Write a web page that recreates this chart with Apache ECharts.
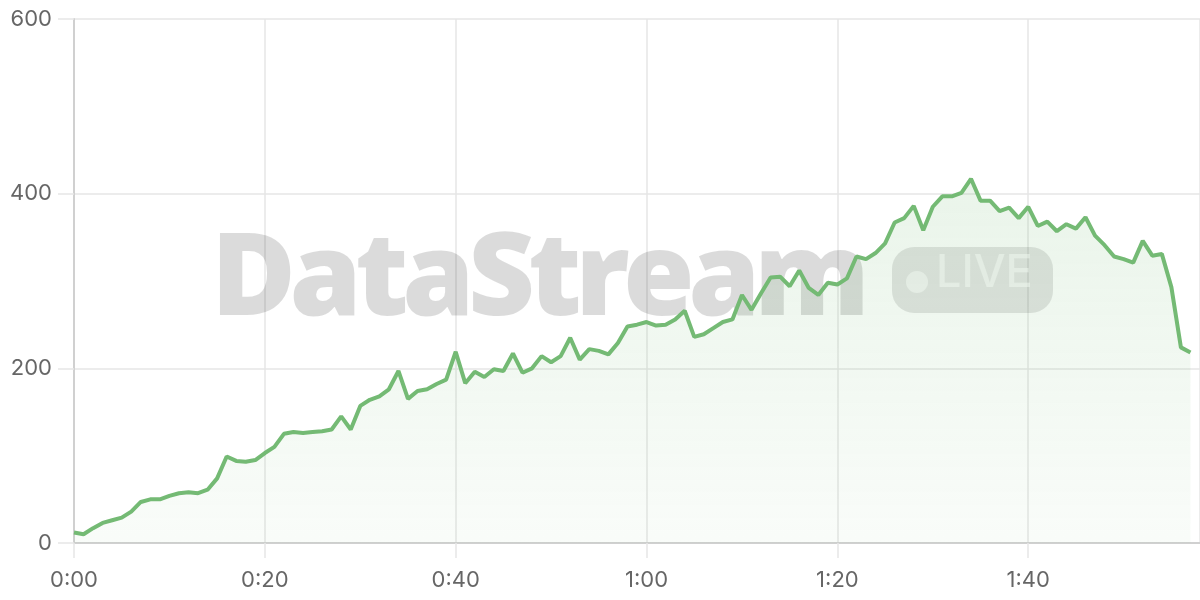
<!DOCTYPE html>
<html>
<head>
<meta charset="utf-8">
<script src="https://cdn.jsdelivr.net/npm/echarts@6/dist/echarts.min.js"></script>
<style>
html,body{margin:0;padding:0;background:#fff;}
#chart{width:1200px;height:600px;}
</style>
</head>
<body>
<div id="chart"></div>
<script>
// minute-by-minute values (minute index 0..117)
const values = [
  12, 10, 17, 23, 26, 29, 36, 47, 50, 50,
  54, 57, 58, 57, 61, 74, 99, 94, 93, 95,
  103, 110, 125, 127, 126, 127, 128, 130, 145, 130,
  157, 164, 168, 176, 197, 165, 174, 176, 182, 187,
  219, 183, 196, 190, 199, 197, 217, 195, 200, 214,
  207, 214, 235, 210, 222, 220, 216, 229, 248, 250,
  253, 249, 250, 256, 266, 236, 239, 246, 253, 256,
  284, 267, 286, 304, 305, 294, 312, 292, 284, 298,
  296, 303, 328, 325, 332, 343, 367, 372, 386, 358,
  385, 397, 397, 401, 417, 392, 392, 380, 384, 372,
  385, 363, 368, 357, 365, 360, 373, 352, 341, 328,
  325, 321, 346, 329, 331, 293, 224, 218
];
const xTicks = ['0:00', '0:20', '0:40', '1:00', '1:20', '1:40'];
const yTicks = [0, 200, 400, 600];
const watermark = 'DataStream';
const badgeText = 'LIVE';

const points = values.map((v, i) => [i, v]);
const fmtMin = m => Math.floor(m / 60) + ':' + String(m % 60).padStart(2, '0');

// watermark letters laid out with a tight letter spacing
const wmFont = '800 116px "Open Sans"';
const wmLeft = 211, wmWidth = 659;
const ctx = document.createElement('canvas').getContext('2d');
ctx.font = wmFont;
const fullW = ctx.measureText(watermark).width;
const spacing = (wmWidth - fullW) / (watermark.length - 1);
const letters = watermark.split('').map((ch, i) => ({
  type: 'text', z: 1,
  x: wmLeft + ctx.measureText(watermark.slice(0, i)).width + i * spacing,
  y: 224,
  style: { text: ch, font: wmFont, fill: 'rgba(0,0,0,0.14)', verticalAlign: 'top' }
}));

const chart = echarts.init(document.getElementById('chart'));
const gridColor = '#e6e6e6';
const labelColor = '#666';
chart.setOption({
  animation: false,
  grid: { left: 74, right: 0, top: 19, bottom: 57 },
  xAxis: {
    type: 'value', min: 0, max: 118, interval: 20,
    axisLine: { show: true, lineStyle: { color: '#d0d0d0', width: 2 } },
    axisTick: { show: true, length: 15, lineStyle: { color: gridColor, width: 1.5 } },
    splitLine: { show: true, lineStyle: { color: gridColor, width: 1.5 } },
    axisLabel: { color: labelColor, fontSize: 22, fontFamily: 'Inter', margin: 26,
      formatter: v => (xTicks.indexOf(fmtMin(v)) >= 0 ? fmtMin(v) : '') ,
      showMaxLabel: false }
  },
  yAxis: {
    type: 'value', min: 0, max: 600, interval: 200,
    axisLine: { show: true, lineStyle: { color: '#d0d0d0', width: 2 } },
    axisTick: { show: true, length: 16, lineStyle: { color: gridColor, width: 1.5 } },
    splitLine: { show: true, lineStyle: { color: gridColor, width: 1.5 } },
    axisLabel: { color: labelColor, fontSize: 22, fontFamily: 'Inter', margin: 22,
      formatter: v => (yTicks.indexOf(v) >= 0 ? String(v) : '') }
  },
  graphic: letters.concat([
    { type: 'rect', z: 1, shape: { x: 892, y: 247, width: 161, height: 66, r: 22 },
      style: { fill: 'rgba(0,0,0,0.11)' } },
    { type: 'circle', z: 1, shape: { cx: 917, cy: 282, r: 11 },
      style: { fill: 'rgba(255,255,255,0.55)' } },
    { type: 'text', z: 1, left: 936, top: 251,
      style: { text: badgeText, font: '500 45px Inter', fill: 'rgba(255,255,255,0.55)' } }
  ]),
  series: [{
    type: 'line', data: points, symbol: 'none', smooth: false, z: 3,
    lineStyle: { color: '#74ba74', width: 4 },
    areaStyle: {
      color: new echarts.graphic.LinearGradient(0, 0, 0, 1, [
        { offset: 0, color: 'rgba(116,186,116,0.22)' },
        { offset: 1, color: 'rgba(116,186,116,0.06)' }
      ])
    }
  }]
});
</script>
</body>
</html>
